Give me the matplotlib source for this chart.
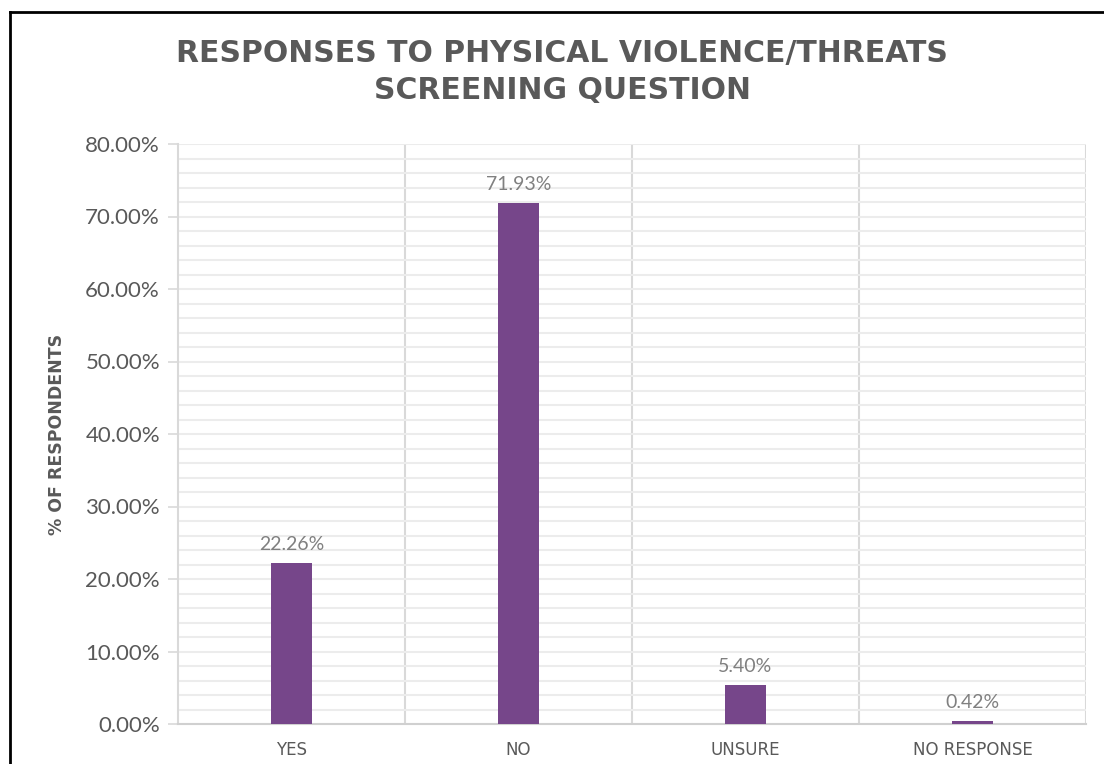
import matplotlib
matplotlib.use("Agg")
import matplotlib.pyplot as plt
from matplotlib.lines import Line2D
from matplotlib.ticker import MultipleLocator, FuncFormatter

categories = ["YES", "NO", "UNSURE", "NO RESPONSE"]
values = [22.26, 71.93, 5.40, 0.42]
value_labels = ["22.26%", "71.93%", "5.40%", "0.42%"]
title = "RESPONSES TO PHYSICAL VIOLENCE/THREATS\nSCREENING QUESTION"
ylabel = "% OF RESPONDENTS"

BAR = "#76468A"
TXT = "#595959"
GRID = "#ececec"

fig = plt.figure(figsize=(11.04, 7.64), dpi=100)
ax = fig.add_axes([178 / 1104, 1 - 724 / 764, (1086 - 178) / 1104, (724 - 144) / 764])

x = list(range(len(categories)))
ax.bar(x, values, width=0.18, color=BAR, zorder=3)

for xi, v, lab in zip(x, values, value_labels):
    ax.annotate(lab, (xi, v), xytext=(0, 7), textcoords="offset points",
                ha="center", va="bottom", fontsize=14, color="#808080",
                family="Lato", zorder=4)

ax.set_xlim(-0.5, 3.5)
ax.set_ylim(0, 80)
ax.yaxis.set_major_locator(MultipleLocator(10))
ax.yaxis.set_minor_locator(MultipleLocator(2))
ax.yaxis.set_major_formatter(FuncFormatter(lambda v, p: f"{v:.2f}%"))
ax.grid(axis="y", which="both", color=GRID, linewidth=1.5, zorder=0)
for b in [0.5, 1.5, 2.5, 3.5]:
    ax.axvline(b, color="#d9d9d9", linewidth=1.5, zorder=1)

ax.set_xticks(x)
ax.set_xticklabels(categories)
ax.tick_params(axis="x", length=0, pad=12, labelsize=12, labelcolor=TXT)
ax.tick_params(axis="y", which="major", length=7, width=1.2, color="#d9d9d9",
               labelsize=16, labelcolor=TXT, pad=6)
ax.tick_params(axis="y", which="minor", length=0)
for lab in ax.get_yticklabels():
    lab.set_family("Lato")
for lab in ax.get_xticklabels():
    lab.set_family("DejaVu Sans")

for s in ["top", "right"]:
    ax.spines[s].set_visible(False)
ax.spines["left"].set_color("#d9d9d9")
ax.spines["left"].set_linewidth(1.5)
ax.spines["bottom"].set_color("#d0d0d0")
ax.spines["bottom"].set_linewidth(1.5)

ax.set_ylabel(ylabel, fontsize=12.5, fontweight="bold", color=TXT, labelpad=14)

fig.text(562 / 1104, 1 - 72 / 764, title, ha="center", va="center",
         fontsize=21.5, fontweight="bold", color=TXT, linespacing=1.35)

# outer frame (left and top edges)
fig.add_artist(Line2D([10 / 1104, 10 / 1104], [0, 1 - 12 / 764],
                      transform=fig.transFigure, color="black", linewidth=2))
fig.add_artist(Line2D([10 / 1104, 1], [1 - 12 / 764, 1 - 12 / 764],
                      transform=fig.transFigure, color="black", linewidth=2))

fig.savefig("out.png", dpi=100, facecolor="white")
